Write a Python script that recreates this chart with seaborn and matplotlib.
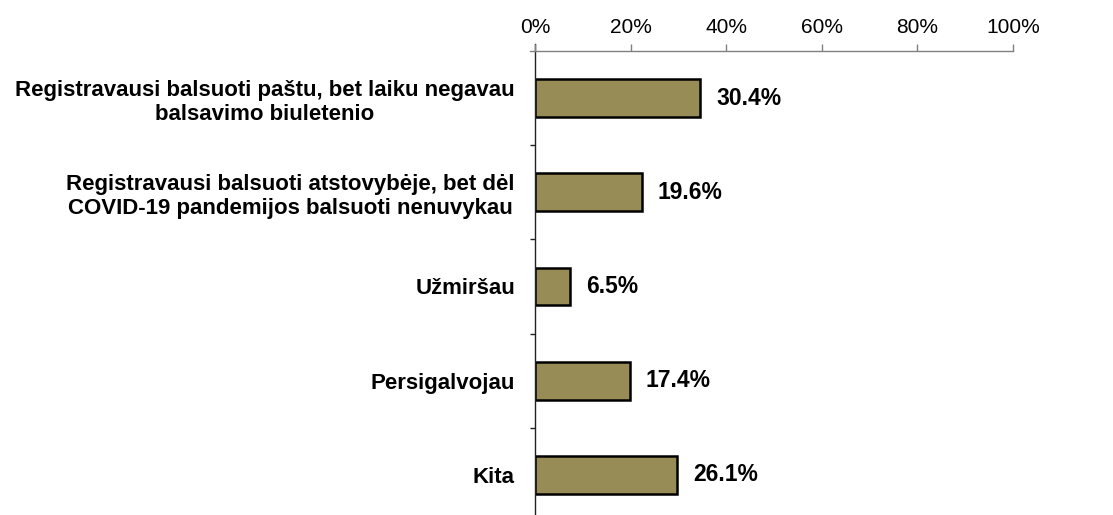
import matplotlib
matplotlib.use("Agg")
import matplotlib.pyplot as plt
import seaborn as sns
import pandas as pd
from matplotlib.ticker import FixedLocator, PercentFormatter

# data
categories = [
    "Registravausi balsuoti paštu, bet laiku negavau\nbalsavimo biuletenio",
    "Registravausi balsuoti atstovybėje, bet dėl\nCOVID-19 pandemijos balsuoti nenuvykau",
    "Užmiršau",
    "Persigalvojau",
    "Kita",
]
shares = [30.4, 19.6, 6.5, 17.4, 26.1]
top_ticks = [0, 20, 40, 60, 80, 100]

df = pd.DataFrame({"reason": categories, "share": shares})

sns.set_style("white")
plt.rcParams["font.family"] = ["Liberation Sans", "DejaVu Sans"]
plt.rcParams["text.color"] = "black"
plt.rcParams["xtick.labelcolor"] = "black"
plt.rcParams["ytick.labelcolor"] = "black"

fig = plt.figure(figsize=(11.13, 5.15), dpi=100)
ax = fig.add_axes([0.4807, -0.0136, 0.4295, 0.9146])

sns.barplot(data=df, y="reason", x="share", orient="h", ax=ax,
            color="#978C56", edgecolor="black", linewidth=1.8, width=0.40,
            saturation=1)

# bar scale in the original does not match the printed top axis
ax.set_xlim(0, 87.9)
ax.set_ylim(4.5, -0.5)
ax.set_xlabel("")
ax.set_ylabel("")
ax.set_xticks([])

for s in ["top", "right", "bottom"]:
    ax.spines[s].set_visible(False)
ax.spines["left"].set_color("#222222")
ax.spines["left"].set_linewidth(1.0)
ax.spines["left"].set_bounds(4.5, -0.575)

ax.tick_params(axis="y", which="major", length=0, pad=14.5, labelsize=16)
for lbl in ax.get_yticklabels():
    lbl.set_fontweight("bold")
    lbl.set_multialignment("center")
    lbl.set_linespacing(1.2)
ax.yaxis.set_minor_locator(FixedLocator([0.5, 1.5, 2.5, 3.5]))
ax.tick_params(axis="y", which="minor", length=3.8, width=1.0,
               color="#222222", left=True)

ax.bar_label(ax.containers[0], labels=[f"{v:.1f}%" for v in shares],
             padding=11.5, fontsize=16.5, fontweight="bold")

# top percentage axis
ax2 = ax.twiny()
ax2.set_xlim(0, 100)
ax2.set_xticks(top_ticks)
ax2.xaxis.set_major_formatter(PercentFormatter(decimals=0))
ax2.tick_params(axis="x", direction="out", length=5, width=1.0,
                color="#808080", pad=5, labelsize=15)
for s in ["left", "right", "bottom"]:
    ax2.spines[s].set_visible(False)
ax2.spines["top"].set_color("#808080")
ax2.spines["top"].set_linewidth(1.0)
ax2.spines["top"].set_bounds(-1.05, 100)
ax2.grid(False)
ax.grid(False)

fig.savefig("out.png", dpi=100)
